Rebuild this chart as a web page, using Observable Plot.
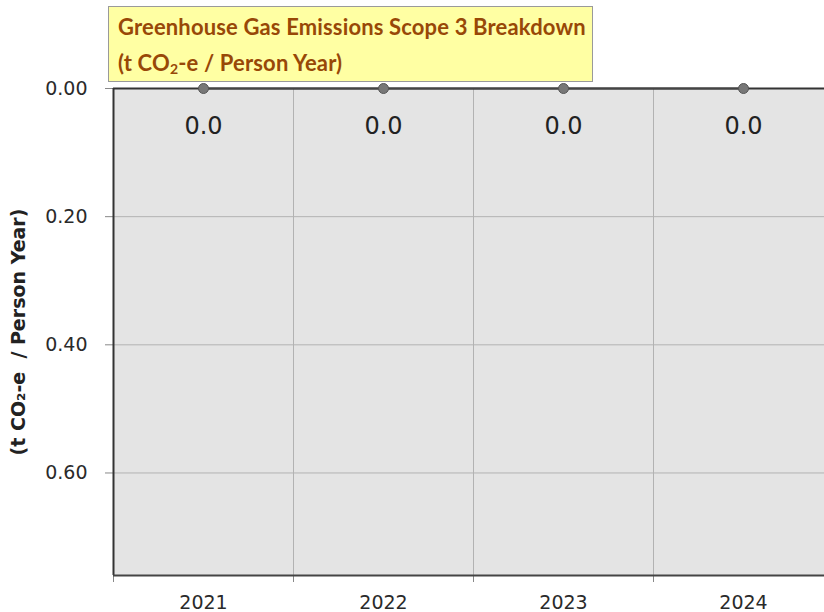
<!DOCTYPE html>
<html>
<head>
<meta charset="utf-8">
<script src="https://cdn.jsdelivr.net/npm/d3@7"></script>
<script src="https://cdn.jsdelivr.net/npm/@observablehq/plot@0.6"></script>
<style>
  html, body { margin: 0; padding: 0; background: #fff; overflow: hidden; }
  #wrap { position: relative; width: 824px; height: 612px; }
  #title {
    position: absolute; left: 108px; top: 6px; width: 485px; height: 76px;
    background: #ffffa3; border: 1px solid #9a9a9a; box-sizing: border-box;
    font-family: Lato, "Open Sans", sans-serif; font-weight: bold; font-size: 22px;
    letter-spacing: 0.15px;
    color: #984807; line-height: 36px; padding: 2px 0 0 9px; white-space: nowrap;
  }
  #title sub { font-size: 14px; line-height: 0; vertical-align: -3px; }
</style>
</head>
<body>
<div id="wrap">
  <div id="chart"></div>
  <div id="title">Greenhouse Gas Emissions Scope 3 Breakdown<br>(t CO<sub>2</sub>-e / Person Year)</div>
</div>
<script>
const years = [2021, 2022, 2023, 2024];
const values = [0.0, 0.0, 0.0, 0.0];
const yTicks = [0, 0.2, 0.4, 0.6];
const yMax = 0.76;
const yLabel = "(t CO₂-e  / Person Year)";

const data = years.map((year, i) => ({year, value: values[i]}));
const boundaries = [years[0] - 0.5, ...years.map(y => y + 0.5)];
const innerBoundaries = boundaries.slice(1, -1);

const font = "'DejaVu Sans', sans-serif";

const chart = Plot.plot({
  width: 824,
  height: 612,
  marginLeft: 113,
  marginRight: -9,
  marginTop: 88,
  marginBottom: 37,
  style: {fontFamily: font, fontSize: "19px", color: "#2a2a2a", background: "transparent"},
  x: {domain: [boundaries[0], boundaries[boundaries.length - 1]]},
  y: {domain: [0, yMax], reverse: true},
  marks: [
    Plot.frame({fill: "#e4e4e4", stroke: null}),
    Plot.ruleY(yTicks.slice(1), {stroke: "#b2b2b2", strokeWidth: 1}),
    Plot.ruleX(innerBoundaries, {stroke: "#b2b2b2", strokeWidth: 1}),
    Plot.axisY({ticks: yTicks, tickFormat: d3.format(".2f"), tickSize: 8, tickPadding: 18, label: null, stroke: "#888", fontSize: 19}),
    Plot.axisX({ticks: boundaries, tickFormat: () => "", tickSize: 7, label: null, stroke: "#888"}),
    Plot.axisX({ticks: years, tickFormat: d3.format("d"), tickSize: 0, tickPadding: 20, label: null, fontSize: 19}),
    Plot.ruleX([boundaries[0]], {stroke: "#333", strokeWidth: 2}),
    Plot.ruleY([0], {stroke: "#333", strokeWidth: 2}),
    Plot.ruleY([yMax], {stroke: "#444", strokeWidth: 2}),
    Plot.line(data, {x: "year", y: "value", stroke: "#444", strokeWidth: 2}),
    Plot.dot(data, {x: "year", y: "value", r: 5, fill: "#777", stroke: "#555", strokeWidth: 1}),
    Plot.text(data, {x: "year", y: "value", text: d => d.value.toFixed(1), dy: 38, fontSize: 24, fill: "#222"}),
    Plot.text([yLabel], {frameAnchor: "left", textAnchor: "middle", text: d => d, rotate: -90, dx: -95, fontWeight: "bold", fontSize: 19, fill: "#222"})
  ]
});
document.getElementById("chart").appendChild(chart);
</script>
</body>
</html>
